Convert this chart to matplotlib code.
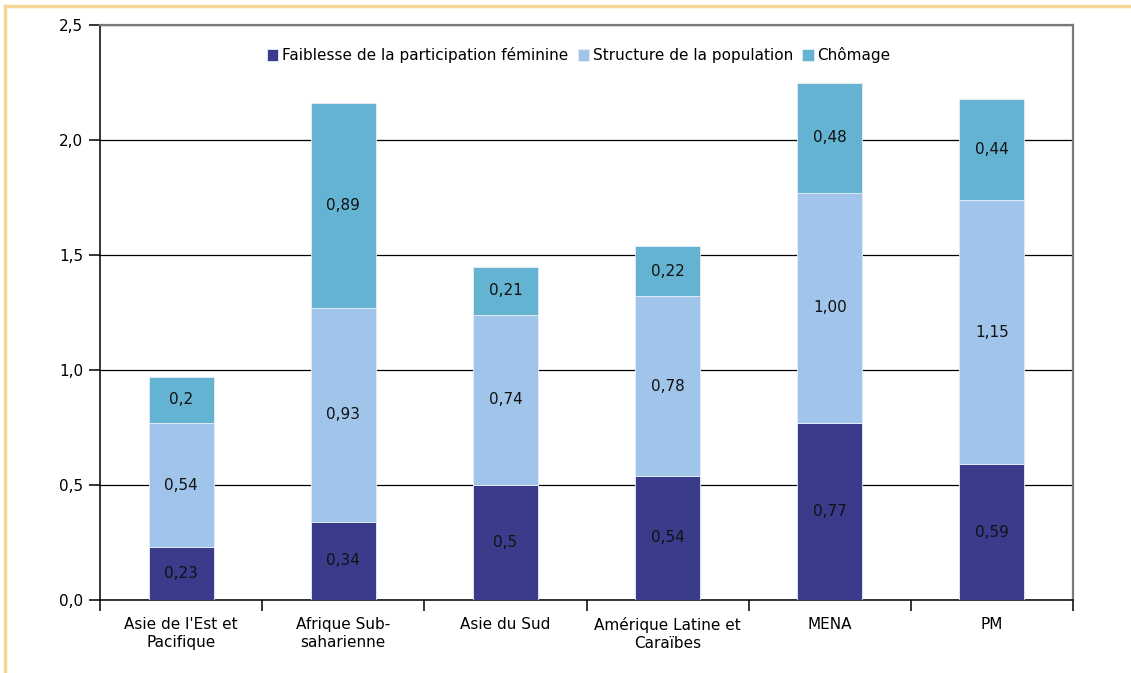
import numpy as np
import matplotlib.pyplot as plt
from matplotlib.lines import Line2D

categories = ["Asie de l'Est et\nPacifique", "Afrique Sub-\nsaharienne", "Asie du Sud",
              "Amérique Latine et\nCaraïbes", "MENA", "PM"]
feminine = [0.23, 0.34, 0.50, 0.54, 0.77, 0.59]
population = [0.54, 0.93, 0.74, 0.78, 1.00, 1.15]
chomage = [0.20, 0.89, 0.21, 0.22, 0.48, 0.44]
labels_fem = ["0,23", "0,34", "0,5", "0,54", "0,77", "0,59"]
labels_pop = ["0,54", "0,93", "0,74", "0,78", "1,00", "1,15"]
labels_cho = ["0,2", "0,89", "0,21", "0,22", "0,48", "0,44"]
series_names = ["Faiblesse de la participation féminine", "Structure de la population", "Chômage"]

colors = ["#3B3B8C", "#A1C5EA", "#64B3D2"]
fs = 11

plt.rcParams['font.family'] = ['DejaVu Sans']
fig = plt.figure(figsize=(11.31, 6.73), dpi=100)
ax = fig.add_axes([100 / 1131, 73 / 673, 973 / 1131, 575 / 673])

x = np.arange(len(categories))
w = 0.4
bottom = np.zeros(len(categories))
for vals, labs, col, name in zip([feminine, population, chomage],
                                 [labels_fem, labels_pop, labels_cho], colors, series_names):
    bars = ax.bar(x, vals, w, bottom=bottom, color=col, edgecolor="#E8EEF8",
                  linewidth=0.6, label=name, zorder=3)
    for b, lab in zip(bars, labs):
        ax.text(b.get_x() + b.get_width() / 2, b.get_y() + b.get_height() / 2, lab,
                ha="center", va="center", fontsize=fs, color="#111111", zorder=4)
    bottom += np.array(vals)

ax.set_xlim(-0.5, len(categories) - 0.5)
ax.set_ylim(0, 2.5)
yt = np.arange(0, 2.51, 0.5)
ax.set_yticks(yt)
ax.set_yticklabels([f"{v:.1f}".replace(".", ",") for v in yt], fontsize=fs)
ax.yaxis.grid(True, color="black", linewidth=0.9, zorder=0)
ax.set_axisbelow(True)

ax.set_xticks(x)
ax.set_xticklabels(categories, fontsize=fs, linespacing=1.25)
ax.tick_params(axis="x", length=0, pad=12)
ax.set_xticks(np.arange(-0.5, len(categories)), minor=True)
ax.tick_params(axis="x", which="minor", length=8, width=1.1, color="black")
ax.tick_params(axis="y", length=8, width=1.1, pad=4)

for s in ["left", "bottom"]:
    ax.spines[s].set_color("black")
    ax.spines[s].set_linewidth(1.1)
for s in ["top", "right"]:
    ax.spines[s].set_color("#7A7A7A")
    ax.spines[s].set_linewidth(1.6)

ax.legend(loc="upper center", bbox_to_anchor=(0.492, 0.985), ncol=3, frameon=False,
          fontsize=fs, handlelength=0.75, handleheight=0.75, handletextpad=0.25,
          columnspacing=0.6)

# outer frame lines
fig.add_artist(Line2D([5 / 1131, 1], [1 - 6 / 673, 1 - 6 / 673], color="#F3D898", linewidth=2.5))
fig.add_artist(Line2D([5 / 1131, 5 / 1131], [0, 1 - 6 / 673], color="#F3D898", linewidth=2.5))

fig.savefig("out.png", dpi=100)
